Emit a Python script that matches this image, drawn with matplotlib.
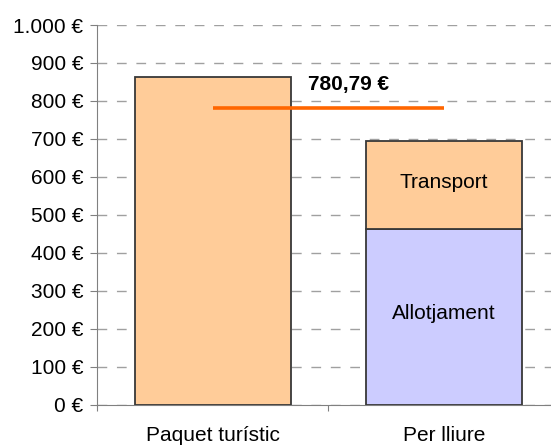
import matplotlib.pyplot as plt

# dades
categories = ['Paquet turístic', 'Per lliure']
paquet = [863, 0]
allotjament = [0, 462]
transport = [0, 233]
mitjana = 780.79
yticks = list(range(0, 1001, 100))
ytick_labels = ['0 €', '100 €', '200 €', '300 €', '400 €', '500 €',
                '600 €', '700 €', '800 €', '900 €', '1.000 €']

plt.rcParams['font.family'] = ['Liberation Sans', 'DejaVu Sans']

fig = plt.figure(figsize=(5.51, 4.45), dpi=100)
ax = fig.add_axes([97 / 551, 40.3 / 445, 462.5 / 551, 379.7 / 445])

x = [0, 1]
w = 0.675
ax.bar(x[0], paquet[0], width=w, color='#FFCC99', edgecolor='#383838', linewidth=1.3, zorder=3)
ax.bar(x[1], allotjament[1], width=w, color='#CCCCFF', edgecolor='#383838', linewidth=1.3, zorder=3)
ax.bar(x[1], transport[1], bottom=allotjament[1], width=w, color='#FFCC99',
       edgecolor='#383838', linewidth=1.3, zorder=3)

ax.text(x[1], allotjament[1] + transport[1] / 2 + 8, 'Transport', ha='center', va='center',
        fontsize=15, zorder=4)
ax.text(x[1], allotjament[1] / 2 + 10, 'Allotjament', ha='center', va='center',
        fontsize=15, zorder=4)

# línia de la mitjana
ax.plot([x[0], x[1]], [mitjana, mitjana], color='#FF6600', linewidth=2.6, zorder=5,
        solid_capstyle='butt')
ax.text(0.59, 842, f'{mitjana:.2f} €'.replace('.', ','), ha='center', va='center',
        fontsize=15, fontweight='bold', zorder=5)

ax.set_xlim(-0.5, 1.5)
ax.set_ylim(0, 1000)
ax.set_yticks(yticks)
ax.set_yticklabels(ytick_labels, fontsize=15)
ax.set_xticks([-0.5, 0.5, 1.5])
ax.set_xticklabels([])
ax.set_xticks(x, minor=True)
ax.set_xticklabels(categories, minor=True, fontsize=15)
ax.tick_params(axis='x', which='minor', length=0, pad=15)
ax.tick_params(axis='x', which='major', length=4.5, width=0.8, color='#808080', direction='out')
ax.tick_params(axis='y', length=5, width=0.8, color='#808080', pad=5)

ax.yaxis.grid(True, color='#A0A0A0', linestyle=(0, (7, 7)), linewidth=1.0, zorder=0)
for s in ['top', 'right']:
    ax.spines[s].set_visible(False)
for s in ['left', 'bottom']:
    ax.spines[s].set_color('#808080')
    ax.spines[s].set_linewidth(0.8)

fig.savefig('out.png', dpi=100)
